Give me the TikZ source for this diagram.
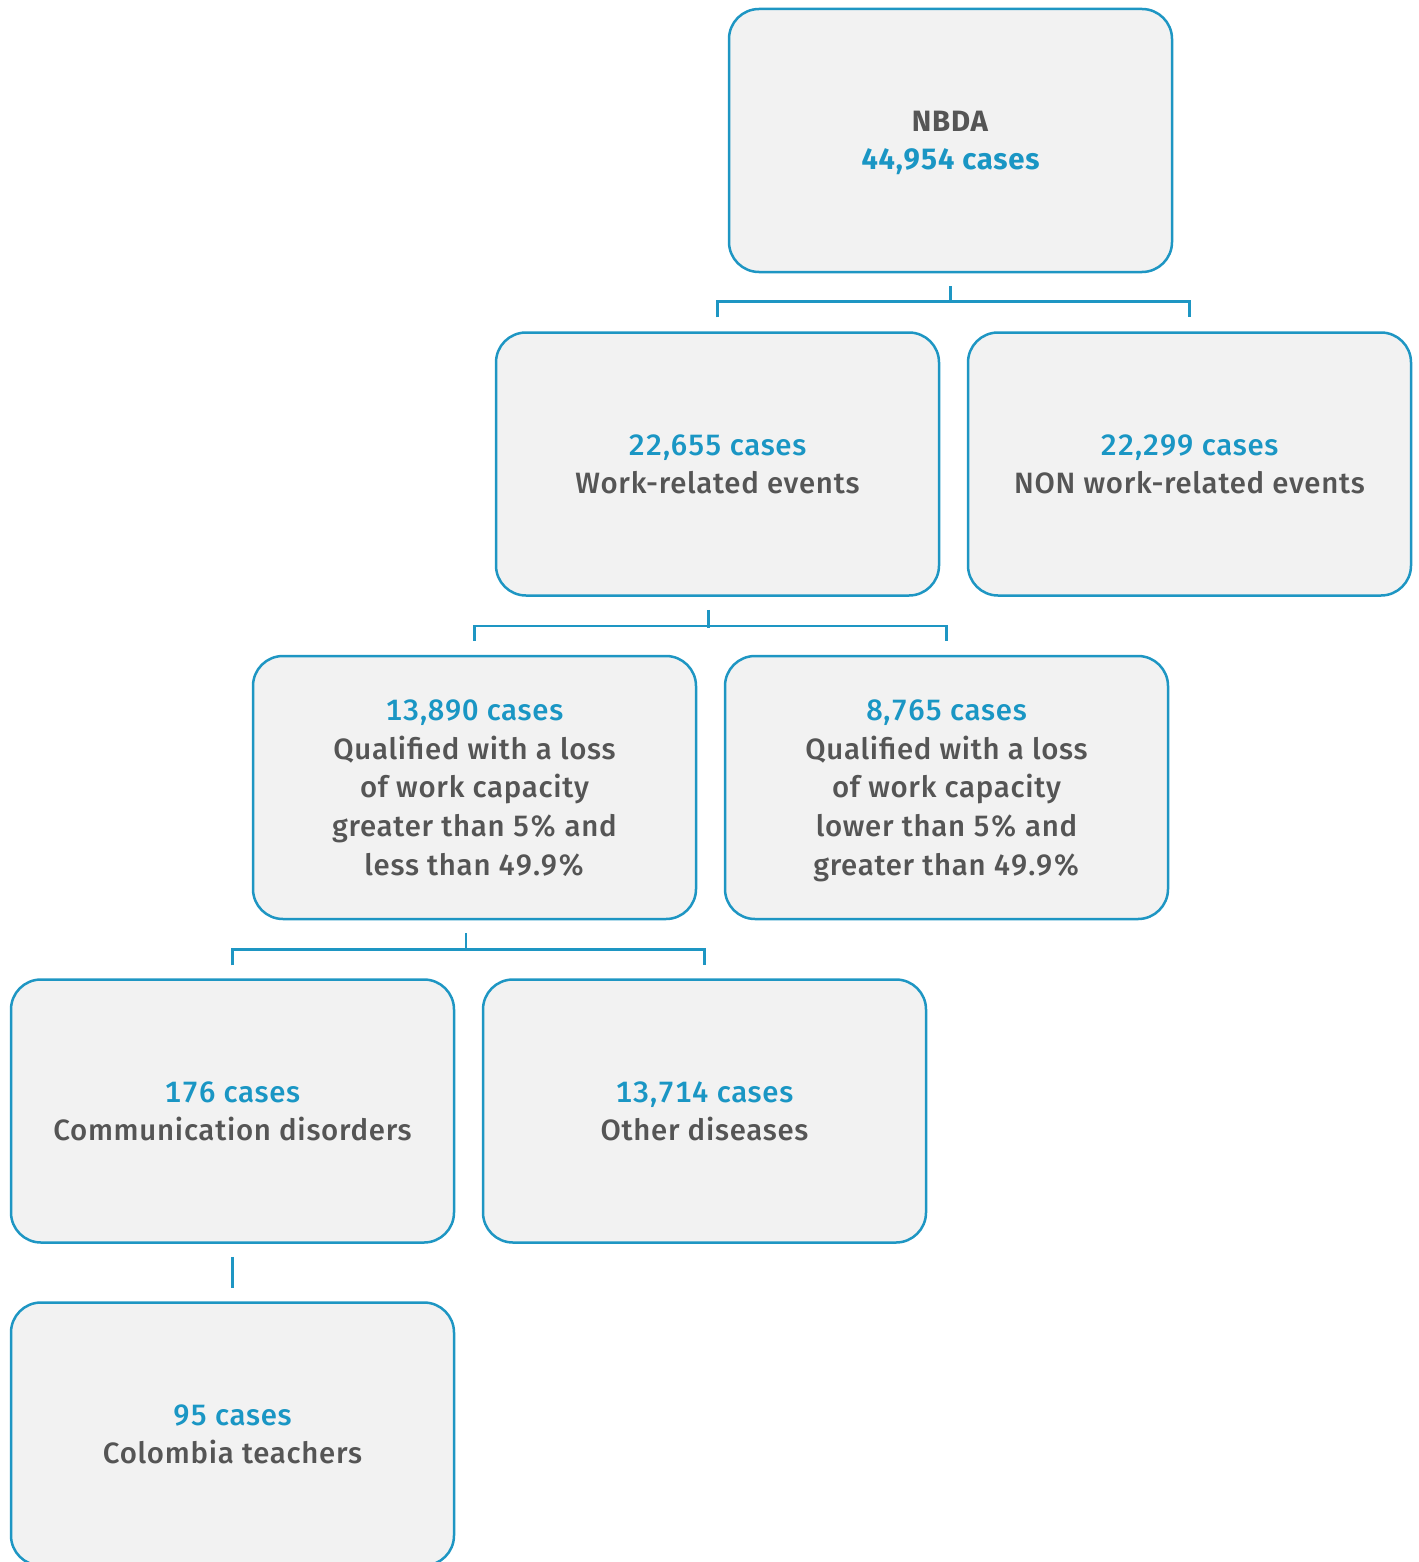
\documentclass[tikz,border=0pt]{standalone}
\usepackage{fontspec}
\setmainfont{Fira Sans}[UprightFont=* Medium, BoldFont=* Bold, LetterSpace=2.5, Numbers=Monospaced]
\usetikzlibrary{calc}
\definecolor{bord}{HTML}{1E96C3}
\definecolor{bluetxt}{HTML}{1A96C4}
\definecolor{graytxt}{HTML}{555555}
\definecolor{boxfill}{HTML}{F2F2F2}
\tikzset{
  cbox/.style={draw=bord, line width=1.25pt, fill=boxfill, rounded corners=15pt,
    minimum width=221.5pt, minimum height=131.5pt, inner sep=0pt, text depth=0pt,
    align=center, text=graytxt, font=\fontsize{14.7}{19.3}\selectfont},
  conn/.style={draw=bord, line width=1.25pt},
}
\newcommand{\bl}[1]{\textcolor{bluetxt}{#1}}
\begin{document}
\begin{tikzpicture}[x=0.5pt,y=-0.5pt]
\useasboundingbox (0,0) rectangle (1418,1562);
\node[cbox] (b1) at (950.5,140.5) {\textbf{NBDA}\\\textbf{\bl{44,954 cases}}};
\node[cbox] (b2) at (717.5,464) {\bl{22,655 cases}\\Work-related events};
\node[cbox] (b3) at (1189.5,464) {\bl{22,299 cases}\\NON work-related events};
\node[cbox] (b4) at (474.5,787.5) {\bl{13,890 cases}\\Qualified with a loss\\of work capacity\\greater than 5\% and\\less than 49.9\%};
\node[cbox] (b5) at (946.5,787.5) {\bl{8,765 cases}\\Qualified with a loss\\of work capacity\\lower than 5\% and\\greater than 49.9\%};
\node[cbox] (b6) at (232.5,1111) {\bl{176 cases}\\Communication disorders};
\node[cbox] (b7) at (704.5,1111) {\bl{13,714 cases}\\Other diseases};
\node[cbox] (b8) at (232.5,1434) {\bl{95 cases}\\Colombia teachers};
% level 1
\draw[conn] ($(b1.south)+(0,13)$) -- ++(0,17);
\draw[conn] ($(b2.north)+(0,-14)$) -- ++(0,-16) -| ($(b3.north)+(0,-14)$);
% level 2
\draw[conn] ($(b2.south)+(-9,13)$) -- ++(0,18);
\draw[conn] ($(b4.north)+(0,-14)$) -- ++(0,-15) -| ($(b5.north)+(0,-14)$);
% level 3
\draw[conn] ($(b4.south)+(-8.5,13)$) -- ++(0,18);
\draw[conn] ($(b6.north)+(0,-13)$) -- ++(0,-16) -| ($(b7.north)+(0,-13)$);
% level 4
\draw[conn] ($(b6.south)+(0,13)$) -- ($(b8.north)+(0,-13)$);
\end{tikzpicture}
\end{document}
